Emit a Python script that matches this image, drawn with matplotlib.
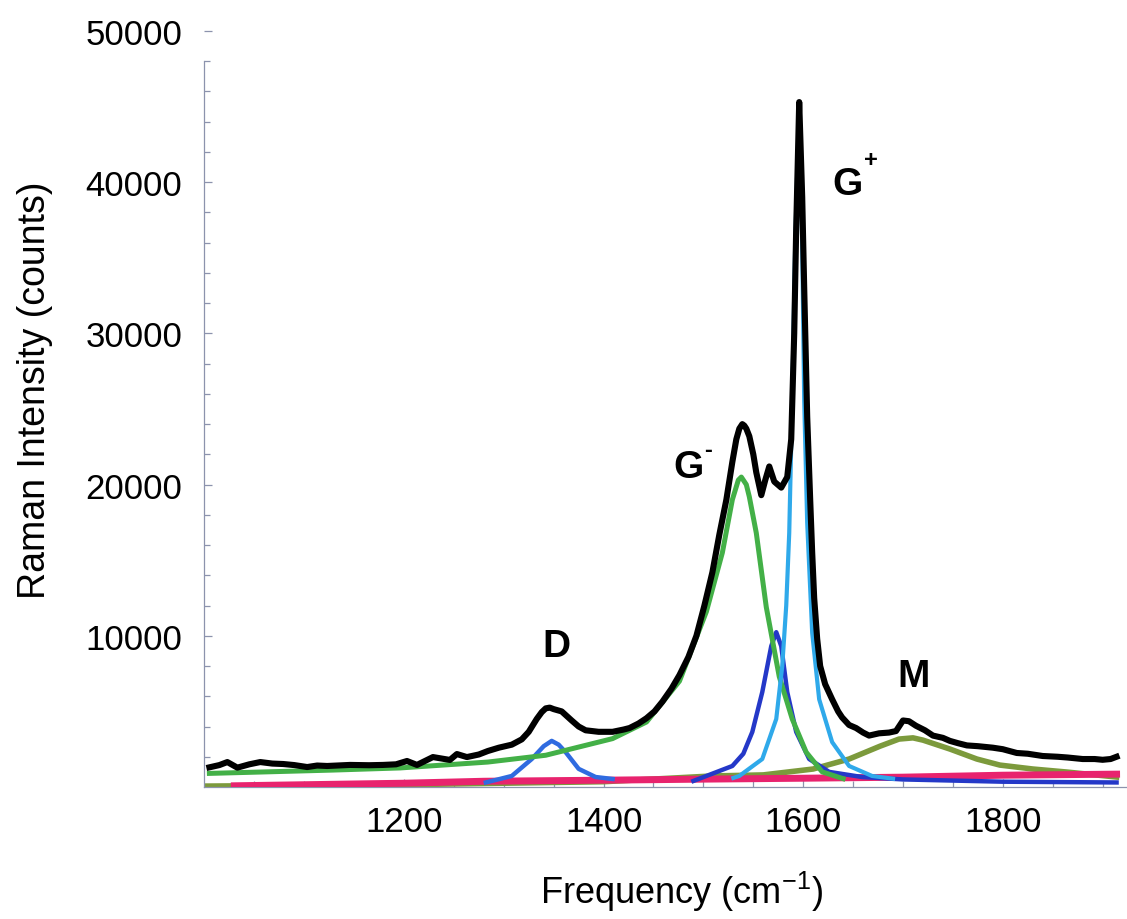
import matplotlib
matplotlib.use("Agg")
import matplotlib.pyplot as plt
from matplotlib.ticker import FixedLocator

plt.rcParams["font.family"] = ["Liberation Sans", "DejaVu Sans"]
plt.rcParams["mathtext.fontset"] = "custom"
plt.rcParams["mathtext.rm"] = "Liberation Sans"

# measured spectrum (black)
meas_f = [1005, 1015, 1023, 1033, 1045, 1056, 1068, 1079, 1090, 1103, 1113, 1123,
          1146, 1165, 1179, 1192, 1203, 1213, 1229, 1246, 1253, 1263, 1275, 1284,
          1295, 1308, 1318, 1325, 1333, 1338, 1342, 1346, 1350, 1358, 1368, 1375,
          1382, 1395, 1409, 1420, 1426, 1435, 1443, 1451, 1459, 1468, 1476, 1485,
          1493, 1501, 1509, 1516, 1523, 1529, 1533, 1536, 1539, 1541, 1543, 1546,
          1550, 1553, 1558, 1562, 1566, 1571, 1578, 1584, 1588, 1591, 1593, 1596,
          1599, 1601, 1604, 1607, 1609, 1611, 1614, 1617, 1622, 1629, 1635, 1639,
          1646, 1653, 1660, 1666, 1676, 1686, 1693, 1700, 1706, 1713, 1722, 1730,
          1740, 1747, 1755, 1764, 1775, 1790, 1800, 1814, 1825, 1840, 1855, 1865,
          1880, 1892, 1900, 1908, 1914]
meas_v = [1300, 1450, 1650, 1280, 1500, 1650, 1550, 1520, 1450, 1320, 1420, 1390,
          1460, 1440, 1460, 1500, 1720, 1460, 1980, 1790, 2180, 1980, 2150, 2380,
          2600, 2800, 3150, 3650, 4500, 4950, 5200, 5250, 5150, 5000, 4400, 4000,
          3750, 3650, 3650, 3800, 3900, 4200, 4550, 5000, 5650, 6500, 7400, 8600,
          10000, 12000, 14200, 16700, 19000, 21500, 23000, 23700, 24000, 23900, 23700, 23200,
          22000, 20800, 19300, 20300, 21200, 20200, 19800, 20500, 23000, 30000, 37000, 45300,
          39000, 33000, 24500, 19000, 15500, 12500, 9800, 8000, 6800, 5800, 5000, 4600,
          4100, 3900, 3600, 3400, 3550, 3600, 3700, 4400, 4350, 4050, 3750, 3400,
          3250, 3050, 2900, 2750, 2700, 2600, 2500, 2250, 2200, 2050, 2000, 1950,
          1850, 1850, 1800, 1850, 2000]

# G- component (green)
gm_f = [1005, 1056, 1129, 1196, 1284, 1342, 1409, 1443, 1476, 1503, 1519, 1529,
        1535, 1538, 1543, 1546, 1553, 1563, 1576, 1589, 1603, 1619, 1640]
gm_v = [900, 990, 1120, 1260, 1650, 2100, 3200, 4300, 7000, 11600, 15500, 19000,
        20300, 20500, 20000, 19200, 16800, 11900, 7300, 4500, 2300, 1000, 550]

# G+ component (light blue)
gp_f = [1530, 1536, 1559, 1573, 1579, 1583, 1586, 1589, 1592, 1596, 1599, 1601,
        1604, 1609, 1616, 1629, 1646, 1669, 1690]
gp_v = [600, 730, 1850, 4500, 8000, 12000, 16800, 25600, 36000, 45300, 36000, 25600,
        17500, 10200, 5800, 2970, 1390, 730, 550]

# middle G component (dark blue)
gb_f = [1490, 1503, 1529, 1540, 1549, 1559, 1568, 1573, 1578, 1584, 1593, 1606,
        1626, 1659, 1700, 1800, 1914]
gb_v = [400, 730, 1390, 2200, 3640, 6280, 9320, 10240, 9320, 6280, 3640, 1850,
        1000, 660, 500, 350, 300]

# D component (blue)
d_f = [1282, 1308, 1328, 1340, 1348, 1355, 1362, 1375, 1392, 1409]
d_v = [300, 730, 1850, 2700, 3050, 2800, 2300, 1200, 660, 530]

# M component (olive)
m_f = [1000, 1200, 1400, 1509, 1560, 1610, 1646, 1677, 1696, 1710, 1720, 1747,
       1774, 1797, 1830, 1864, 1914]
m_v = [60, 150, 350, 730, 800, 1190, 1850, 2700, 3170, 3250, 3100, 2510,
       1850, 1450, 1190, 990, 660]

# baseline (pink)
base_f = [1030, 1100, 1200, 1280, 1400, 1500, 1600, 1700, 1800, 1914]
base_v = [80, 150, 250, 380, 450, 520, 580, 650, 780, 850]

peak_labels = [("D", 1353, 8660), ("G", 1485, 20500), ("G", 1644, 39220), ("M", 1711, 6680)]
peak_sups = [("-", 1505, 22350), ("+", 1668, 41500)]

fig = plt.figure(figsize=(11.27, 9.2), dpi=100)
ax = fig.add_axes([204.4 / 1127, 1 - 788 / 920, 921.6 / 1127, 756 / 920])

ax.plot(m_f, m_v, color="#7c9a3c", lw=4.0, zorder=2)
ax.plot(base_f, base_v, color="#e8236e", lw=5.0, zorder=3)
ax.plot(d_f, d_v, color="#2f6be0", lw=3.2, zorder=4)
ax.plot(gb_f, gb_v, color="#2438c8", lw=3.2, zorder=4)
ax.plot(gm_f, gm_v, color="#43b047", lw=3.6, zorder=5)
ax.plot(gp_f, gp_v, color="#2fa9ea", lw=3.0, zorder=6)
ax.plot(meas_f, meas_v, color="black", lw=4.4, zorder=7, solid_joinstyle="round")

for txt, x, y in peak_labels:
    ax.text(x, y, txt, fontsize=28, fontweight="bold", ha="center", va="baseline")
for txt, x, y in peak_sups:
    ax.text(x, y, txt, fontsize=17, fontweight="bold", ha="center", va="center")

ax.set_xlim(1000, 1000 + 921.6 / 0.998)
ax.set_ylim(0, 50000)

axc = "#8c93ad"
for s in ("top", "right"):
    ax.spines[s].set_visible(False)
for s in ("left", "bottom"):
    ax.spines[s].set_color(axc)
    ax.spines[s].set_linewidth(0.9)
ax.spines["left"].set_bounds(0, 48000)

ax.set_xticks([1200, 1400, 1600, 1800])
ax.xaxis.set_minor_locator(FixedLocator([v for v in range(1050, 1925, 50) if v % 200]))
ax.set_yticks([10000, 20000, 30000, 40000, 50000])
ax.yaxis.set_minor_locator(FixedLocator([v for v in range(2000, 48001, 2000) if v % 10000]))
ax.tick_params(which="both", direction="in", color=axc, width=0.9)
ax.tick_params(which="major", length=6)
ax.tick_params(which="minor", length=4)
ax.tick_params(axis="x", labelsize=25, pad=13)
ax.tick_params(axis="y", labelsize=25, pad=16)

fig.text(35 / 1127, 1 - 390 / 920, "Raman Intensity (counts)", rotation=90,
         fontsize=27, ha="center", va="center")
fig.text(681 / 1127, 1 - 904 / 920, "Frequency (cm$^{-1}$)", fontsize=26,
         ha="center", va="baseline")

fig.savefig("out.png", dpi=100, facecolor="white")
